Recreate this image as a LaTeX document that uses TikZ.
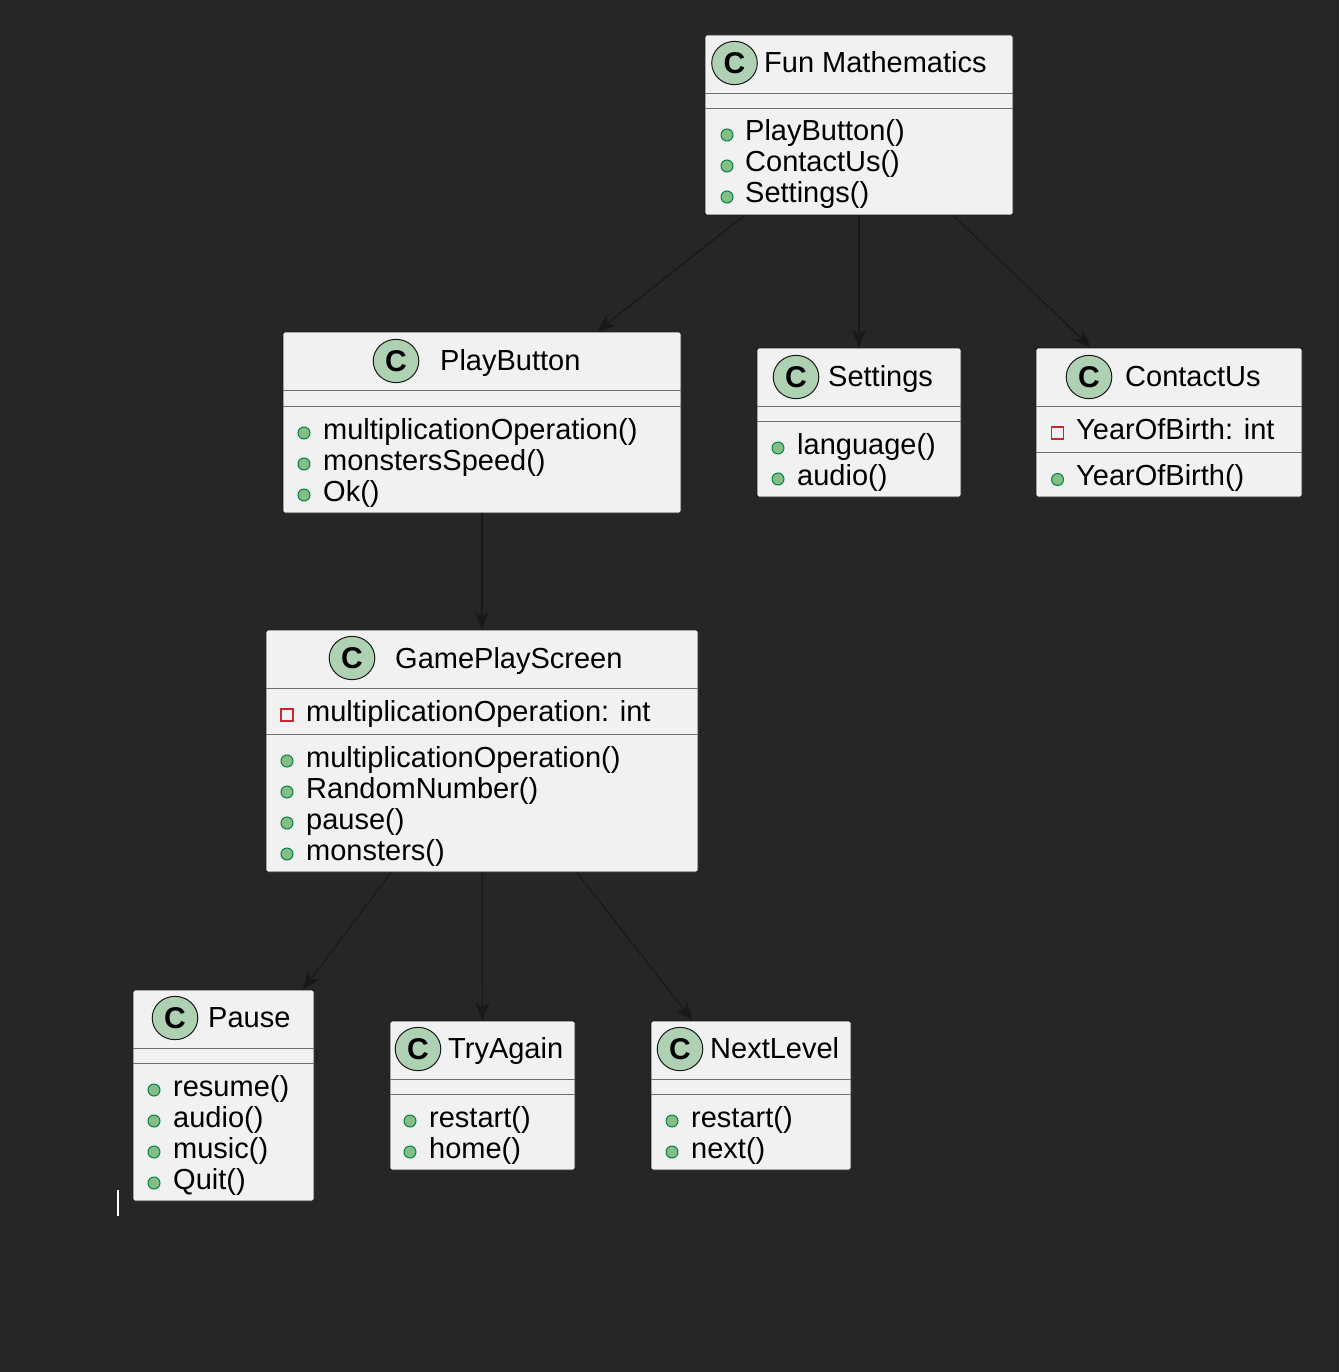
\documentclass[tikz,border=0pt]{standalone}
\usepackage{fontspec}
\setmainfont{Liberation Sans}
\usepackage{tikz}
\usetikzlibrary{shapes.geometric,arrows.meta,positioning}
\usepackage{xcolor}
\definecolor{bgcolor}{RGB}{38, 38, 38}
\definecolor{boxcolor}{RGB}{241, 241, 241}
\definecolor{spotcolor}{RGB}{173, 209, 178}
\definecolor{linecolor}{RGB}{24, 24, 24}
\definecolor{sepcolor}{RGB}{110, 110, 110}
\definecolor{pubcolor}{RGB}{132, 190, 132}
\definecolor{pubborder}{RGB}{3, 128, 72}
\definecolor{privcolor}{RGB}{200, 41, 48}

\begin{document}
\begin{tikzpicture}[
    x=1pt, y=-1pt,
    classbox/.style={rectangle, draw=linecolor, fill=boxcolor, rounded corners=2pt, line width=0.8pt, inner sep=0},
    spot/.style={ellipse, draw=linecolor, fill=spotcolor, minimum width=45.6pt, minimum height=43.3pt, inner sep=0, line width=1pt, font=\fontsize{30}{30}\selectfont\bfseries},
    title/.style={anchor=base west, inner sep=0, font=\fontsize{29}{31}\selectfont},
    member/.style={anchor=base west, inner sep=0, font=\fontsize{29}{31}\selectfont},
    pubdot/.style={circle, draw=pubborder, fill=pubcolor, minimum size=12pt, inner sep=0, line width=1pt},
    privbox/.style={rectangle, draw=privcolor, fill=boxcolor, minimum size=12pt, inner sep=0, line width=1.3pt},
    sepline/.style={draw=sepcolor, line width=0.8pt},
    link/.style={draw=linecolor, line width=1.2pt, -{Stealth[length=18pt, width=14pt, inset=5pt]}},
]
    % Background
    \fill[bgcolor] (0,0) rectangle (1339,1372);
    \useasboundingbox (0,0) rectangle (1339,1372);

    % Class boxes
    \node[classbox, minimum width=308pt, minimum height=180pt] (fm) at (859,125) {};
    \node[classbox, minimum width=398pt, minimum height=181pt] (playbtn) at (482,422.5) {};
    \node[classbox, minimum width=204pt, minimum height=149pt] (settings) at (859,422.5) {};
    \node[classbox, minimum width=266pt, minimum height=149pt] (contact) at (1169,422.5) {};
    \node[classbox, minimum width=432pt, minimum height=242pt] (gameplay) at (482,751) {};
    \node[classbox, minimum width=181pt, minimum height=211pt] (pause) at (223.5,1095.5) {};
    \node[classbox, minimum width=185pt, minimum height=149pt] (tryagain) at (482.5,1095.5) {};
    \node[classbox, minimum width=200pt, minimum height=149pt] (nextlevel) at (751,1095.5) {};

    % Links
    \draw[link] (fm) -- (playbtn);
    \draw[link] (fm) -- (settings);
    \draw[link] (fm) -- (contact);
    \draw[link] (playbtn) -- (gameplay);
    \draw[link] (gameplay) -- (pause);
    \draw[link] (gameplay) -- (tryagain);
    \draw[link] (gameplay) -- (nextlevel);

    % === Fun Mathematics ===
    \node[spot] (fm-c) at (734.5,63) {C};
    \node[title] (fm-t) at (764,73) {Fun Mathematics};
    \draw[sepline] ([yshift=-59pt]fm.north west) -- ([yshift=-59pt]fm.north east);
    \draw[sepline] ([yshift=-74pt]fm.north west) -- ([yshift=-74pt]fm.north east);
    \foreach \m [count=\i] in {PlayButton(), ContactUs(), Settings()} {
        \node[pubdot] (fm-d\i) at (727,{104+31*\i}) {};
        \node[member] (fm-m\i) at (745,{110+31*\i}) {\m};
    }

    % === PlayButton ===
    \node[spot] (playbtn-c) at (396,361) {C};
    \node[title] (playbtn-t) at (440,370) {PlayButton};
    \draw[sepline] ([yshift=-59pt]playbtn.north west) -- ([yshift=-59pt]playbtn.north east);
    \draw[sepline] ([yshift=-75pt]playbtn.north west) -- ([yshift=-75pt]playbtn.north east);
    \foreach \m [count=\i] in {multiplicationOperation(), monstersSpeed(), Ok()} {
        \node[pubdot] (playbtn-d\i) at (304,{402+31*\i}) {};
        \node[member] (playbtn-m\i) at (323,{408+31*\i}) {\m};
    }

    % === Settings ===
    \node[spot] (settings-c) at (796,377) {C};
    \node[title] (settings-t) at (828,386) {Settings};
    \draw[sepline] ([yshift=-59pt]settings.north west) -- ([yshift=-59pt]settings.north east);
    \draw[sepline] ([yshift=-74pt]settings.north west) -- ([yshift=-74pt]settings.north east);
    \foreach \m [count=\i] in {language(), audio()} {
        \node[pubdot] (settings-d\i) at (778,{417+31*\i}) {};
        \node[member] (settings-m\i) at (797,{423+31*\i}) {\m};
    }

    % === ContactUs ===
    \node[spot] (contact-c) at (1089,377) {C};
    \node[title] (contact-t) at (1125,386) {ContactUs};
    \draw[sepline] ([yshift=-59pt]contact.north west) -- ([yshift=-59pt]contact.north east);
    \node[privbox] (contact-p1) at (1057.5,433) {};
    \node[member] (contact-f1) at (1076,439) {YearOfBirth: int};
    \draw[sepline] ([yshift=-105pt]contact.north west) -- ([yshift=-105pt]contact.north east);
    \node[pubdot] (contact-d1) at (1057.5,479.5) {};
    \node[member] (contact-m1) at (1076,485) {YearOfBirth()};

    % === GamePlayScreen ===
    \node[spot] (gameplay-c) at (352,658) {C};
    \node[title] (gameplay-t) at (395,668) {GamePlayScreen};
    \draw[sepline] ([yshift=-59pt]gameplay.north west) -- ([yshift=-59pt]gameplay.north east);
    \node[privbox] (gameplay-p1) at (287,715) {};
    \node[member] (gameplay-f1) at (306,721) {multiplicationOperation: int};
    \draw[sepline] ([yshift=-105pt]gameplay.north west) -- ([yshift=-105pt]gameplay.north east);
    \foreach \m [count=\i] in {multiplicationOperation(), RandomNumber(), pause(), monsters()} {
        \node[pubdot] (gameplay-d\i) at (287,{730+31*\i}) {};
        \node[member] (gameplay-m\i) at (306,{736+31*\i}) {\m};
    }

    % === Pause ===
    \node[spot] (pause-c) at (175,1018) {C};
    \node[title] (pause-t) at (208,1027) {Pause};
    \draw[sepline] ([yshift=-59pt]pause.north west) -- ([yshift=-59pt]pause.north east);
    \draw[sepline] ([yshift=-74pt]pause.north west) -- ([yshift=-74pt]pause.north east);
    \foreach \m [count=\i] in {resume(), audio(), music(), Quit()} {
        \node[pubdot] (pause-d\i) at (154,{1059+31*\i}) {};
        \node[member] (pause-m\i) at (173,{1065+31*\i}) {\m};
    }

    % === TryAgain ===
    \node[spot] (tryagain-c) at (418,1049) {C};
    \node[title] (tryagain-t) at (448,1058) {TryAgain};
    \draw[sepline] ([yshift=-59pt]tryagain.north west) -- ([yshift=-59pt]tryagain.north east);
    \draw[sepline] ([yshift=-74pt]tryagain.north west) -- ([yshift=-74pt]tryagain.north east);
    \foreach \m [count=\i] in {restart(), home()} {
        \node[pubdot] (tryagain-d\i) at (410,{1090+31*\i}) {};
        \node[member] (tryagain-m\i) at (429,{1096+31*\i}) {\m};
    }

    % === NextLevel ===
    \node[spot] (nextlevel-c) at (680,1049) {C};
    \node[title] (nextlevel-t) at (710,1058) {NextLevel};
    \draw[sepline] ([yshift=-59pt]nextlevel.north west) -- ([yshift=-59pt]nextlevel.north east);
    \draw[sepline] ([yshift=-74pt]nextlevel.north west) -- ([yshift=-74pt]nextlevel.north east);
    \foreach \m [count=\i] in {restart(), next()} {
        \node[pubdot] (nextlevel-d\i) at (672,{1090+31*\i}) {};
        \node[member] (nextlevel-m\i) at (691,{1096+31*\i}) {\m};
    }

    % cursor mark
    \draw[white, line width=2pt] (118,1190) -- (118,1216);

\end{tikzpicture}
\end{document}
